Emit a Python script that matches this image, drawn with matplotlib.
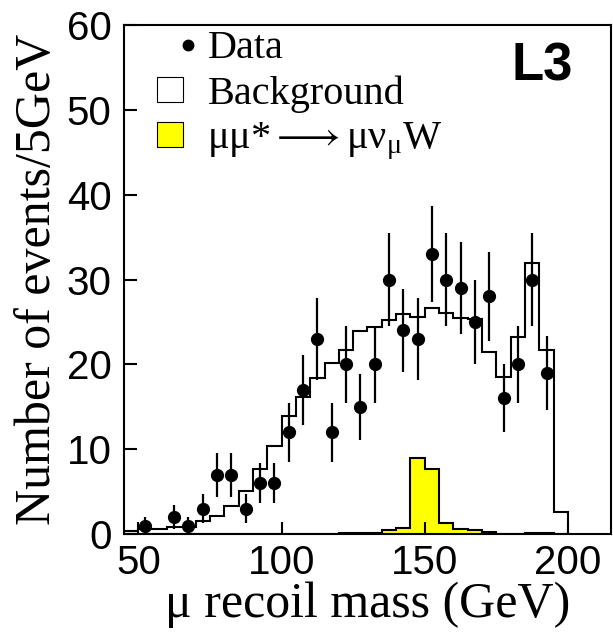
import numpy as np
import matplotlib
matplotlib.use('Agg')
import matplotlib.pyplot as plt
from matplotlib.lines import Line2D
from matplotlib.patches import Patch
from matplotlib.legend_handler import HandlerLine2D

plt.rcParams['mathtext.fontset'] = 'custom'
plt.rcParams['mathtext.rm'] = 'Liberation Serif'
plt.rcParams['mathtext.it'] = 'Liberation Serif'
plt.rcParams['mathtext.fallback'] = 'stix'

# histogram bin edges (5 GeV bins)
edges = np.arange(45, 201, 5)

# background MC, one value per bin 45-50 ... 195-200
background = [0.35, 0.55, 0.55, 0.85, 0.85, 1.5, 2.1, 3.3, 5.1, 7.7,
              10.4, 13.9, 16.2, 18.4, 20.2, 21.7, 23.9, 24.4, 25.2, 25.9,
              25.6, 26.7, 26.1, 25.5, 25.4, 21.5, 18.5, 23.2, 32.0, 21.7,
              2.6]

# signal mu mu* -> mu nu W, same bins
signal = [0, 0, 0, 0, 0, 0, 0, 0, 0, 0,
          0, 0, 0, 0, 0, 0.1, 0.1, 0.1, 0.47, 0.75,
          9.0, 7.7, 1.25, 0.55, 0.45, 0.2, 0, 0, 0.1, 0.1,
          0]

# data, bin centres 52.5 ... 192.5
data_x = [52.5, 57.5, 62.5, 67.5, 72.5, 77.5, 82.5, 87.5, 92.5, 97.5,
          102.5, 107.5, 112.5, 117.5, 122.5, 127.5, 132.5, 137.5, 142.5, 147.5,
          152.5, 157.5, 162.5, 167.5, 172.5, 177.5, 182.5, 187.5, 192.5]
data_n = [1, 0, 2, 1, 3, 7, 7, 3, 6, 6,
          12, 17, 23, 12, 20, 15, 20, 30, 24, 23,
          33, 30, 29, 25, 28, 16, 20, 30, 19]
data_err = [1.0, 0, 1.4, 1.0, 1.7, 2.6, 2.6, 1.7, 2.4, 2.4,
            3.5, 4.1, 4.8, 3.5, 4.5, 3.9, 4.5, 5.5, 4.9, 4.8,
            5.7, 5.5, 5.4, 5.0, 5.3, 4.0, 4.5, 5.5, 4.4]

data_x = np.array(data_x)
data_n = np.array(data_n)
data_err = np.array(data_err)
ok = data_n > 0

fig = plt.figure(figsize=(6.13, 6.35), dpi=100)
ax = fig.add_axes([0.2023, 0.159, 0.7944, 0.8016])

ax.stairs(signal, edges, fill=True, facecolor='yellow', edgecolor='none', zorder=1)
ax.stairs(signal, edges, color='k', lw=1.5, zorder=2)
ax.stairs(background, edges, color='k', lw=1.5, zorder=3)
ax.errorbar(data_x[ok], data_n[ok], yerr=data_err[ok], fmt='o', color='k',
            ms=8.5, elinewidth=1.6, capsize=0, zorder=4)

ax.set_xlim(45, 215)
ax.set_ylim(0, 60)
ax.set_xticks([50, 100, 150, 200])
ax.set_yticks([0, 10, 20, 30, 40, 50, 60])
ax.tick_params(direction='in', length=9, width=1.5, labelsize=29,
               top=False, right=False)
ax.tick_params(axis='y', pad=9)
ax.tick_params(axis='x', pad=7)
for lab in ax.get_xticklabels() + ax.get_yticklabels():
    lab.set_family('Liberation Sans')
for s in ax.spines.values():
    s.set_linewidth(1.5)

ax.set_xlabel('μ recoil mass (GeV)', family='Liberation Serif', fontsize=36, labelpad=0)
ax.set_ylabel('Number of events/5GeV', family='Liberation Serif', fontsize=36, labelpad=4)

dot = Line2D([], [], marker='o', ls='none', color='k', ms=7.5)
handles = [dot,
           Patch(facecolor='white', edgecolor='k', lw=0.8),
           Patch(facecolor='yellow', edgecolor='k', lw=0.8)]
labels = ['Data', 'Background', 'μμ*$\\longrightarrow$μν$_\\mathrm{μ}$W']
ax.legend(handles, labels, loc='upper left', bbox_to_anchor=(0.068, 0.99),
          frameon=False, prop={'family': 'Liberation Serif', 'size': 29},
          handlelength=0.65, handleheight=0.6, handletextpad=0.6,
          labelspacing=0.2, borderpad=0.0, borderaxespad=0.0,
          handler_map={dot: HandlerLine2D(numpoints=1, xpad=0.9)})

ax.text(0.858, 0.918, 'L3', transform=ax.transAxes, ha='center', va='center',
        fontsize=38, fontweight='bold', family='Liberation Sans')

fig.savefig('out.png', dpi=100)
